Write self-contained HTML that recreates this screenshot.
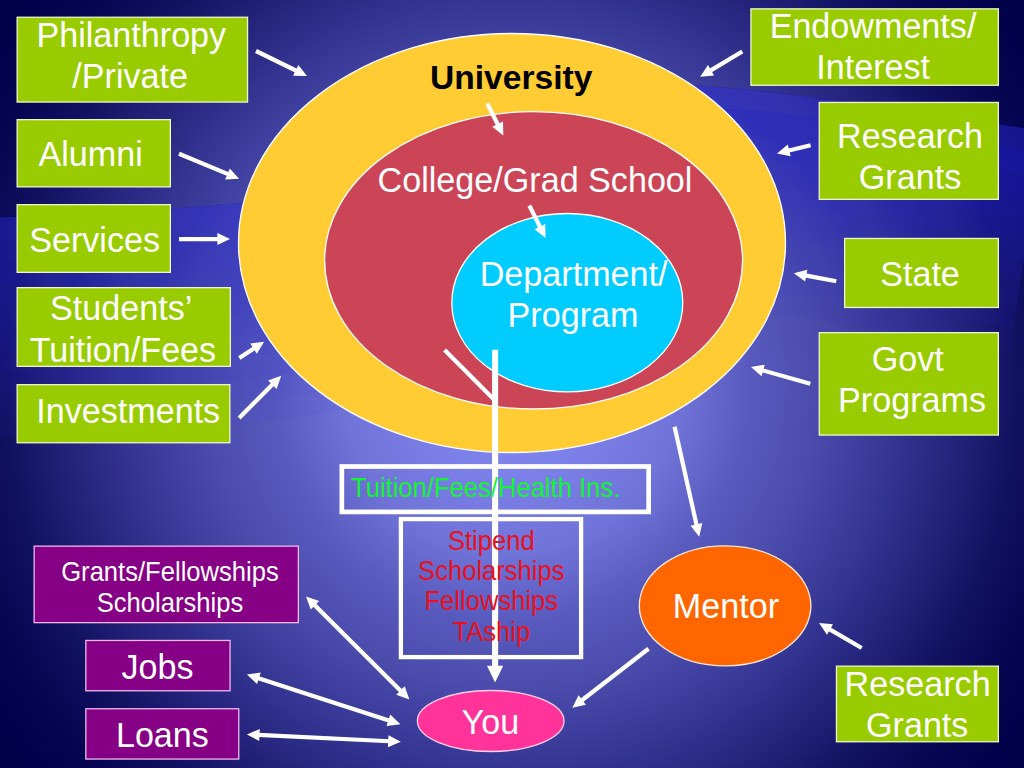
<!DOCTYPE html>
<html><head><meta charset="utf-8"><title>Funding flow</title>
<style>
html,body{margin:0;padding:0;background:#000048;}
body{width:1024px;height:768px;overflow:hidden;}
svg{display:block;font-family:"Liberation Sans",sans-serif;}
text{text-anchor:middle;}
</style></head><body>
<svg width="1024" height="768" viewBox="0 0 1024 768">
<defs>
<radialGradient id="bg" gradientUnits="userSpaceOnUse" cx="512" cy="384" r="640">
<stop offset="0" stop-color="#8287f0"/>
<stop offset="0.116" stop-color="#7e83ec"/>
<stop offset="0.2625" stop-color="#7073d7"/>
<stop offset="0.372" stop-color="#585abe"/>
<stop offset="0.473" stop-color="#4b4cac"/>
<stop offset="0.578" stop-color="#393998"/>
<stop offset="0.684" stop-color="#26267f"/>
<stop offset="0.792" stop-color="#111161"/>
<stop offset="0.89" stop-color="#040450"/>
<stop offset="1" stop-color="#000048"/>
</radialGradient>
<path id="sw" d="M-20,218 C80,215 170,209 240,203 C400,188 480,95 620,84 C680,80 780,90 1044,131"/>
<path id="sw2" d="M300,215 C420,200 520,122 640,110 C700,104 800,108 1044,154"/>
<clipPath id="below2"><path d="M300,215 C420,200 520,122 640,110 C700,104 800,108 1044,154 L1044,800 L300,800 Z"/></clipPath>
<clipPath id="below"><path d="M-20,218 C80,215 170,209 240,203 C400,188 480,95 620,84 C680,80 780,90 1044,131 L1044,800 L-20,800 Z"/></clipPath>
</defs>
<rect width="1024" height="768" fill="url(#bg)"/>
<g clip-path="url(#below)" fill="none" stroke="#3030e0" stroke-opacity="0.06" stroke-linejoin="round">
<use href="#sw" stroke-width="44"/>
<use href="#sw" stroke-width="88"/>
<use href="#sw" stroke-width="132"/>
<use href="#sw" stroke-width="176"/>
<use href="#sw" stroke-width="220"/>
<use href="#sw" stroke-width="264"/>
<use href="#sw" stroke-width="308"/>
<use href="#sw" stroke-width="352"/>
<use href="#sw" stroke-width="396"/>
<use href="#sw" stroke-width="440"/>
</g>
<g clip-path="url(#below2)" fill="none" stroke="#3030dc" stroke-opacity="0.05" stroke-linejoin="round">
<use href="#sw2" stroke-width="50"/>
<use href="#sw2" stroke-width="100"/>
<use href="#sw2" stroke-width="150"/>
<use href="#sw2" stroke-width="200"/>
<use href="#sw2" stroke-width="250"/>
</g>
<rect x="17.15" y="17.25" width="230.40" height="84.80" fill="#99CC00" stroke="#eef5cc" stroke-width="1.3"/>
<rect x="17.15" y="119.65" width="153.20" height="67.20" fill="#99CC00" stroke="#eef5cc" stroke-width="1.3"/>
<rect x="17.15" y="204.65" width="153.20" height="67.70" fill="#99CC00" stroke="#eef5cc" stroke-width="1.3"/>
<rect x="17.15" y="287.65" width="213.20" height="78.70" fill="#99CC00" stroke="#eef5cc" stroke-width="1.3"/>
<rect x="17.15" y="384.65" width="212.70" height="58.10" fill="#99CC00" stroke="#eef5cc" stroke-width="1.3"/>
<rect x="750.95" y="8.85" width="247.40" height="76.40" fill="#99CC00" stroke="#eef5cc" stroke-width="1.3"/>
<rect x="819.25" y="102.45" width="179.10" height="96.90" fill="#99CC00" stroke="#eef5cc" stroke-width="1.3"/>
<rect x="844.65" y="238.45" width="153.70" height="69.00" fill="#99CC00" stroke="#eef5cc" stroke-width="1.3"/>
<rect x="819.25" y="332.65" width="179.10" height="102.40" fill="#99CC00" stroke="#eef5cc" stroke-width="1.3"/>
<rect x="836.45" y="666.15" width="161.90" height="75.60" fill="#99CC00" stroke="#eef5cc" stroke-width="1.3"/>
<rect x="34.15" y="546.15" width="264.20" height="76.50" fill="#860086" stroke="#f0b8f0" stroke-width="1.3"/>
<rect x="85.85" y="640.45" width="144.20" height="50.30" fill="#860086" stroke="#f0b8f0" stroke-width="1.3"/>
<rect x="85.85" y="708.75" width="152.90" height="50.30" fill="#860086" stroke="#f0b8f0" stroke-width="1.3"/>
<ellipse cx="512" cy="243" rx="273.5" ry="209.5" fill="#FFCC33" stroke="#fff" stroke-width="1.3"/>
<ellipse cx="533.6" cy="260.3" rx="209" ry="148.7" fill="#CC4557" stroke="#fff" stroke-width="1.3"/>
<ellipse cx="567.3" cy="302.7" rx="115.5" ry="89.2" fill="#00CCFF" stroke="#fff" stroke-width="1.3"/>
<ellipse cx="725.1" cy="605.8" rx="85.8" ry="60" fill="#FF6600" stroke="#ffeadc" stroke-width="1.3"/>
<ellipse cx="490.7" cy="721" rx="73.3" ry="30.5" fill="#FF3399" stroke="#ffd0e8" stroke-width="1.3"/>
<rect x="341.85" y="466.5" width="306.8" height="45.4" fill="none" stroke="#fff" stroke-width="4.7"/>
<rect x="400.9" y="519.1" width="180.2" height="138" fill="none" stroke="#fff" stroke-width="4.3"/>
<line x1="495.10" y1="349.80" x2="495.10" y2="667.48" stroke="#fff" stroke-width="6.1"/>
<polygon points="495.10,682.60 487.00,665.80 503.20,665.80" fill="#fff"/>
<line x1="444.6" y1="350.1" x2="495" y2="400.5" stroke="#fff" stroke-width="4.27"/>
<text transform="translate(131.3,47) scale(1,1.05)" font-size="34.13" fill="#fff">Philanthropy</text>
<text transform="translate(130.2,87.8) scale(1,1.05)" font-size="34.13" fill="#fff">/Private</text>
<text transform="translate(90.6,166.4) scale(1,1.05)" font-size="34.13" fill="#fff">Alumni</text>
<text transform="translate(94.6,252) scale(1,1.05)" font-size="34.13" fill="#fff">Services</text>
<text transform="translate(121.25,319.7) scale(1,1.05)" font-size="34.13" fill="#fff">Students’</text>
<text transform="translate(122.9,361.5) scale(1,1.05)" font-size="34.13" fill="#fff">Tuition/Fees</text>
<text transform="translate(128.2,422.7) scale(1,1.05)" font-size="34.13" fill="#fff">Investments</text>
<text transform="translate(873,38) scale(1,1.05)" font-size="34.13" fill="#fff">Endowments/</text>
<text transform="translate(873.2,79.2) scale(1,1.05)" font-size="34.13" fill="#fff">Interest</text>
<text transform="translate(910,147.6) scale(1,1.05)" font-size="34.13" fill="#fff">Research</text>
<text transform="translate(910,188.8) scale(1,1.05)" font-size="34.13" fill="#fff">Grants</text>
<text transform="translate(920,285.5) scale(1,1.05)" font-size="34.13" fill="#fff">State</text>
<text transform="translate(907.8,371.4) scale(1,1.05)" font-size="34.13" fill="#fff">Govt</text>
<text transform="translate(912,412.2) scale(1,1.05)" font-size="34.13" fill="#fff">Programs</text>
<text transform="translate(917.6,696) scale(1,1.05)" font-size="34.13" fill="#fff">Research</text>
<text transform="translate(917.2,737) scale(1,1.05)" font-size="34.13" fill="#fff">Grants</text>
<text transform="translate(511.2,89.3) scale(1,1.015)" font-size="33.6" fill="#000" font-weight="bold">University</text>
<text transform="translate(535,192) scale(1,1.05)" font-size="34.13" fill="#fff">College/Grad School</text>
<text transform="translate(573.6,286) scale(1,1.05)" font-size="34.13" fill="#fff">Department/</text>
<text transform="translate(573,326.6) scale(1,1.05)" font-size="34.13" fill="#fff">Program</text>
<text transform="translate(725.9,618.4) scale(1,1.05)" font-size="34.13" fill="#fff">Mentor</text>
<text transform="translate(490.4,733.9) scale(1,1.05)" font-size="34.13" fill="#fff">You</text>
<text transform="translate(157.6,678.7) scale(1,1.05)" font-size="34.13" fill="#fff">Jobs</text>
<text transform="translate(162.4,746.9) scale(1,1.05)" font-size="34.13" fill="#fff">Loans</text>
<text transform="translate(170,581) scale(1,1.05)" font-size="25.6" fill="#fff">Grants/Fellowships</text>
<text transform="translate(170,612) scale(1,1.05)" font-size="25.6" fill="#fff">Scholarships</text>
<text transform="translate(485.6,496.6) scale(1,1.05)" font-size="25.6" fill="#11F533">Tuition/Fees/Health Ins.</text>
<text transform="translate(491.3,549.7) scale(1,1.05)" font-size="25.6" fill="#E8111C">Stipend</text>
<text transform="translate(491.3,580.0) scale(1,1.05)" font-size="25.6" fill="#E8111C">Scholarships</text>
<text transform="translate(491.3,610.3000000000001) scale(1,1.05)" font-size="25.6" fill="#E8111C">Fellowships</text>
<text transform="translate(491.3,640.6) scale(1,1.05)" font-size="25.6" fill="#E8111C">TAship</text>
<line x1="256.00" y1="51.00" x2="296.82" y2="71.01" stroke="#fff" stroke-width="4.2"/>
<polygon points="307.00,76.00 293.05,75.84 298.33,65.07" fill="#fff"/>
<line x1="179.00" y1="153.70" x2="228.64" y2="174.43" stroke="#fff" stroke-width="4.2"/>
<polygon points="239.10,178.80 225.16,179.48 229.79,168.41" fill="#fff"/>
<line x1="179.06" y1="239.06" x2="218.66" y2="239.06" stroke="#fff" stroke-width="4.2"/>
<polygon points="230.00,239.06 217.40,245.06 217.40,233.06" fill="#fff"/>
<line x1="239.30" y1="358.00" x2="254.62" y2="347.93" stroke="#fff" stroke-width="4.2"/>
<polygon points="264.10,341.70 256.87,353.63 250.28,343.61" fill="#fff"/>
<line x1="239.10" y1="417.90" x2="273.23" y2="383.81" stroke="#fff" stroke-width="4.2"/>
<polygon points="281.25,375.80 276.58,388.95 268.10,380.46" fill="#fff"/>
<line x1="742.30" y1="51.50" x2="709.93" y2="70.88" stroke="#fff" stroke-width="4.2"/>
<polygon points="700.20,76.70 707.93,65.08 714.09,75.38" fill="#fff"/>
<line x1="810.60" y1="145.20" x2="788.02" y2="150.71" stroke="#fff" stroke-width="4.2"/>
<polygon points="777.00,153.40 787.82,144.58 790.66,156.24" fill="#fff"/>
<line x1="836.25" y1="281.30" x2="805.04" y2="275.40" stroke="#fff" stroke-width="4.2"/>
<polygon points="793.90,273.30 807.39,269.74 805.17,281.53" fill="#fff"/>
<line x1="810.30" y1="383.70" x2="761.92" y2="370.16" stroke="#fff" stroke-width="4.2"/>
<polygon points="751.00,367.10 764.75,364.72 761.52,376.27" fill="#fff"/>
<line x1="674.60" y1="426.80" x2="696.72" y2="525.63" stroke="#fff" stroke-width="4.2"/>
<polygon points="699.20,536.70 690.59,525.71 702.30,523.09" fill="#fff"/>
<line x1="861.70" y1="648.00" x2="828.89" y2="628.82" stroke="#fff" stroke-width="4.2"/>
<polygon points="819.10,623.10 833.01,624.28 826.95,634.64" fill="#fff"/>
<line x1="648.50" y1="648.75" x2="581.27" y2="700.76" stroke="#fff" stroke-width="4.2"/>
<polygon points="572.30,707.70 578.59,695.24 585.94,704.74" fill="#fff"/>
<line x1="487.20" y1="103.40" x2="498.20" y2="125.27" stroke="#fff" stroke-width="4.2"/>
<polygon points="503.30,135.40 492.28,126.84 503.00,121.45" fill="#fff"/>
<line x1="529.40" y1="205.50" x2="540.47" y2="227.84" stroke="#fff" stroke-width="4.2"/>
<polygon points="545.50,238.00 534.53,229.37 545.28,224.05" fill="#fff"/>
<line x1="314.03" y1="604.40" x2="401.37" y2="691.40" stroke="#fff" stroke-width="4.2"/>
<polygon points="409.40,699.40 396.24,694.76 404.71,686.26" fill="#fff"/>
<polygon points="306.00,596.40 310.69,609.54 319.16,601.04" fill="#fff"/>
<line x1="257.69" y1="677.90" x2="389.61" y2="720.70" stroke="#fff" stroke-width="4.2"/>
<polygon points="400.40,724.20 386.56,726.02 390.27,714.60" fill="#fff"/>
<polygon points="246.90,674.40 257.03,684.00 260.74,672.58" fill="#fff"/>
<line x1="258.23" y1="734.94" x2="389.47" y2="741.26" stroke="#fff" stroke-width="4.2"/>
<polygon points="400.80,741.80 387.93,747.19 388.50,735.20" fill="#fff"/>
<polygon points="246.90,734.40 259.20,741.00 259.77,729.01" fill="#fff"/>
</svg>
</body></html>
